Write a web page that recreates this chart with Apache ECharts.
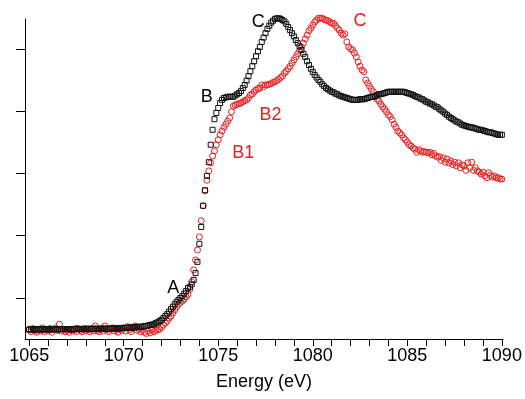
<!DOCTYPE html>
<html>
<head>
<meta charset="utf-8">
<script src="https://cdn.jsdelivr.net/npm/echarts@6/dist/echarts.min.js"></script>
<style>
  html, body { margin: 0; padding: 0; background: #fff; }
  #chart { width: 525px; height: 399px; }
</style>
</head>
<body>
<div id="chart"></div>
<script>
// energy grid: 1065.0 ... 1090.0 eV, 0.1 eV step
const energyStart = 1065;
const energyStep = 0.1;

// black squares (absorption, arb. units)
const absBlack = [
  0.49,0.50,0.49,0.50,0.49,0.50,0.50,0.49,0.50,0.50,
  0.50,0.49,0.50,0.50,0.50,0.49,0.50,0.50,0.50,0.50,
  0.50,0.50,0.49,0.50,0.50,0.51,0.50,0.50,0.50,0.51,
  0.50,0.51,0.50,0.50,0.51,0.50,0.51,0.50,0.51,0.51,
  0.51,0.50,0.51,0.51,0.51,0.51,0.52,0.51,0.51,0.52,
  0.52,0.52,0.52,0.53,0.52,0.53,0.53,0.54,0.53,0.54,
  0.54,0.55,0.55,0.56,0.57,0.57,0.58,0.60,0.61,0.63,
  0.65,0.68,0.71,0.74,0.78,0.82,0.86,0.90,0.94,0.97,
  1.00,1.03,1.07,1.11,1.16,1.18,1.22,1.29,1.40,1.58,
  1.87,2.14,2.48,2.73,2.96,3.18,3.46,3.70,3.87,3.97,
  4.05,4.13,4.18,4.21,4.22,4.23,4.23,4.23,4.23,4.25,
  4.27,4.29,4.32,4.37,4.42,4.49,4.56,4.64,4.72,4.80,
  4.88,4.96,5.03,5.11,5.18,5.25,5.32,5.37,5.42,5.45,
  5.48,5.49,5.49,5.48,5.46,5.44,5.40,5.35,5.30,5.25,
  5.20,5.14,5.09,5.04,4.98,4.92,4.87,4.80,4.74,4.68,
  4.63,4.58,4.54,4.50,4.47,4.43,4.40,4.37,4.35,4.33,
  4.31,4.30,4.28,4.27,4.25,4.24,4.23,4.22,4.21,4.20,
  4.19,4.18,4.18,4.18,4.18,4.19,4.19,4.19,4.20,4.21,
  4.22,4.23,4.23,4.24,4.26,4.27,4.27,4.28,4.29,4.30,
  4.31,4.31,4.31,4.31,4.31,4.31,4.31,4.31,4.31,4.30,
  4.29,4.28,4.27,4.26,4.24,4.23,4.22,4.20,4.19,4.17,
  4.15,4.14,4.12,4.11,4.09,4.07,4.06,4.03,4.01,3.99,
  3.96,3.94,3.91,3.89,3.87,3.85,3.83,3.82,3.80,3.78,
  3.77,3.76,3.75,3.74,3.74,3.73,3.72,3.71,3.70,3.70,
  3.69,3.68,3.67,3.66,3.66,3.65,3.64,3.63,3.62,3.62,
  3.62
];

// red circles
const absRed = [
  0.50,0.46,0.51,0.47,0.45,0.50,0.47,0.52,0.46,0.49,
  0.47,0.51,0.45,0.49,0.52,0.48,0.58,0.47,0.50,0.46,
  0.48,0.45,0.50,0.47,0.49,0.46,0.51,0.48,0.46,0.50,
  0.47,0.49,0.46,0.51,0.47,0.55,0.48,0.46,0.50,0.47,
  0.55,0.49,0.46,0.50,0.52,0.47,0.49,0.45,0.50,0.48,
  0.52,0.47,0.54,0.49,0.46,0.51,0.55,0.48,0.50,0.46,
  0.49,0.45,0.43,0.47,0.44,0.49,0.46,0.48,0.49,0.50,
  0.53,0.57,0.60,0.63,0.68,0.71,0.76,0.81,0.86,0.90,
  0.93,0.95,0.98,1.02,1.06,1.14,1.26,1.45,1.61,1.77,
  1.98,2.24,2.48,2.72,2.89,3.04,3.17,3.28,3.36,3.46,
  3.54,3.62,3.68,3.74,3.79,3.84,3.89,3.99,4.08,4.10,
  4.11,4.12,4.13,4.15,4.17,4.18,4.21,4.26,4.27,4.31,
  4.34,4.36,4.37,4.42,4.39,4.42,4.42,4.43,4.44,4.46,
  4.47,4.49,4.51,4.54,4.56,4.61,4.64,4.68,4.72,4.77,
  4.82,4.87,4.92,4.97,5.03,5.09,5.16,5.22,5.29,5.33,
  5.38,5.43,5.46,5.49,5.49,5.49,5.47,5.46,5.45,5.43,
  5.41,5.41,5.37,5.33,5.30,5.25,5.22,5.24,5.11,5.03,
  5.00,4.98,4.93,4.87,4.79,4.72,4.66,4.63,4.50,4.45,
  4.40,4.35,4.31,4.24,4.19,4.16,4.11,4.07,4.03,3.99,
  3.94,3.91,3.86,3.79,3.74,3.68,3.65,3.62,3.57,3.54,
  3.50,3.46,3.44,3.41,3.39,3.34,3.38,3.36,3.34,3.35,
  3.34,3.33,3.34,3.30,3.32,3.28,3.26,3.27,3.21,3.25,
  3.18,3.23,3.17,3.20,3.14,3.18,3.12,3.17,3.09,3.14,
  3.12,3.05,3.17,3.09,3.18,3.05,3.09,3.04,3.02,2.99,
  3.02,2.96,2.93,3.01,2.97,2.94,2.96,2.93,2.93,2.91,
  2.91
];

const xTicks = [1065,1066,1067,1068,1069,1070,1071,1072,1073,1074,1075,1076,1077,
  1078,1079,1080,1081,1082,1083,1084,1085,1086,1087,1088,1089,1090];
const xLabels = [1065, 1070, 1075, 1080, 1085, 1090];
const yTicks = [1, 2, 3, 4, 5];

// peak annotations: [text, energy, absorption]
const labelsBlack = [['A', 1072.62, 1.16], ['B', 1074.39, 4.23], ['C', 1077.12, 5.43]];
const labelsRed = [['B1', 1076.32, 3.32], ['B2', 1077.77, 3.94], ['C', 1082.5, 5.45]];

const toPoints = vals => vals.map((v, i) => [+(energyStart + i * energyStep).toFixed(1), v]);
const toLabels = (arr) => arr.map(d => ({ name: d[0], value: [d[1], d[2]] }));

const FONT = '"Liberation Sans", Arial, sans-serif';
const RED = '#ee1c1c';

const chart = echarts.init(document.getElementById('chart'));
chart.setOption({
  animation: false,
  grid: { left: 25, right: 22, top: 19, bottom: 60 },
  xAxis: {
    type: 'value',
    min: 1064.78,
    max: 1090.06,
    name: 'Energy (eV)',
    nameLocation: 'middle',
    nameGap: 34,
    nameTextStyle: { fontFamily: FONT, fontSize: 18, color: '#000' },
    axisLine: { lineStyle: { color: '#000', width: 1 } },
    axisTick: { length: 7, customValues: xTicks, lineStyle: { color: '#000' } },
    axisLabel: {
      customValues: xLabels, margin: 8, fontFamily: FONT, fontSize: 18, color: '#000',
      formatter: v => String(v)
    },
    splitLine: { show: false }
  },
  yAxis: {
    type: 'value',
    min: 0.342,
    max: 5.478,
    axisLine: { show: true, lineStyle: { color: '#000', width: 1 } },
    axisTick: { show: true, length: 9, customValues: yTicks, lineStyle: { color: '#000' } },
    axisLabel: { show: false },
    splitLine: { show: false }
  },
  series: [
    {
      type: 'scatter',
      data: toPoints(absRed),
      symbol: 'circle',
      symbolSize: 6,
      clip: false,
      itemStyle: { color: 'rgba(0,0,0,0)', borderColor: RED, borderWidth: 1, opacity: 1 }
    },
    {
      type: 'scatter',
      data: toPoints(absBlack),
      symbol: 'rect',
      symbolSize: 5,
      clip: false,
      itemStyle: { color: 'rgba(0,0,0,0)', borderColor: '#111', borderWidth: 1, opacity: 1 }
    },
    {
      type: 'scatter',
      data: toLabels(labelsBlack),
      symbolSize: 1,
      itemStyle: { color: 'rgba(0,0,0,0)', opacity: 1 },
      label: { show: true, position: 'inside', formatter: '{b}', fontFamily: FONT, fontSize: 18, color: '#000' }
    },
    {
      type: 'scatter',
      data: toLabels(labelsRed),
      symbolSize: 1,
      itemStyle: { color: 'rgba(0,0,0,0)', opacity: 1 },
      label: { show: true, position: 'inside', formatter: '{b}', fontFamily: FONT, fontSize: 18, color: RED }
    }
  ]
});
</script>
</body>
</html>
